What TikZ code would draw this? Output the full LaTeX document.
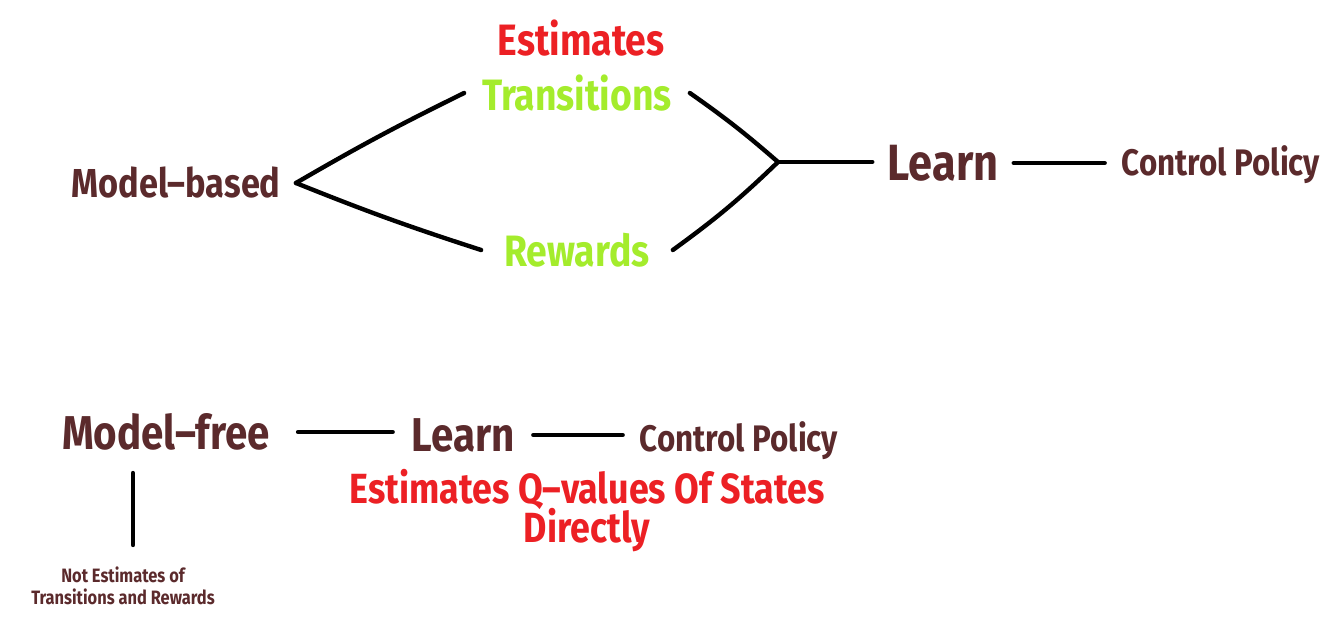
\documentclass[tikz,border=0pt]{standalone}
\usepackage{fontspec}
\usepackage{tikz}
\usetikzlibrary{arrows.meta, positioning, calc}
\newfontfamily\handfont[FakeStretch=0.85, Ligatures=TeX]{Fira Sans}
\definecolor{maroon}{HTML}{5B2A2C}
\definecolor{hotred}{HTML}{EC2024}
\definecolor{lime}{HTML}{A4EC2C}

\begin{document}
\begin{tikzpicture}[
    txt/.style={inner xsep=0.3cm, inner ysep=0pt, font=\handfont\bfseries},
    stroke/.style={line width=2.5pt, black, line cap=round}
]
    % Frame
    \useasboundingbox (0, 0) rectangle (26.7, -12.82);

    % Model-based branch
    \node[txt, text=hotred, font=\handfont\bfseries\fontsize{25}{28}\selectfont] (est) at (11.62, -0.76) {Estimates};
    \node[txt, text=lime, minimum width=4.5cm, font=\handfont\bfseries\fontsize{25}{28}\selectfont] (trans) at (11.54, -1.86) {Transitions};
    \node[txt, text=lime, minimum width=3.82cm, font=\handfont\bfseries\fontsize{25}{28}\selectfont] (rew) at (11.54, -5.0) {Rewards};
    \node[txt, text=maroon, minimum width=4.74cm, font=\handfont\bfseries\fontsize{23}{26}\selectfont] (mbased) at (3.52, -3.66) {Model–based};
    \coordinate (fork) at (15.56, -3.24);
    \node[txt, text=maroon, minimum width=2.8cm, font=\handfont\bfseries\fontsize{29}{32}\selectfont] (learnA) at (18.86, -3.26) {Learn};
    \node[txt, text=maroon, minimum width=4.64cm, font=\handfont\bfseries\fontsize{21}{24}\selectfont] (policyA) at (24.42, -3.30) {Control Policy};

    \draw[stroke] (mbased.east) to[bend left=2] (trans.west);
    \draw[stroke] (mbased.east) to[bend right=2] (rew.west);
    \draw[stroke] (trans.east) to[bend left=3] (fork);
    \draw[stroke] (rew.east) to[bend right=4] (fork);
    \draw[stroke] (fork) -- (fork -| learnA.west);
    \draw[stroke] (learnA.east) -- (learnA.east -| policyA.west);

    % Model-free branch
    \node[txt, text=maroon, minimum width=4.7cm, font=\handfont\bfseries\fontsize{27}{30}\selectfont] (mfree) at (3.32, -8.64) {Model–free};
    \node[txt, text=maroon, minimum width=2.8cm, font=\handfont\bfseries\fontsize{27}{30}\selectfont] (learnB) at (9.26, -8.70) {Learn};
    \node[txt, text=maroon, minimum width=4.64cm, font=\handfont\bfseries\fontsize{21}{24}\selectfont] (policyB) at (14.78, -8.82) {Control Policy};
    \node[txt, text=hotred, font=\handfont\bfseries\fontsize{24}{27}\selectfont] (qval) at (11.74, -9.78) {Estimates Q–values Of States};
    \node[txt, text=hotred, font=\handfont\bfseries\fontsize{24}{27}\selectfont] (direct) at (11.74, -10.60) {Directly};
    \node[txt, text=maroon, align=center, font=\handfont\bfseries\fontsize{11}{12.5}\selectfont] (note) at (2.46, -11.72) {Not Estimates of\\Transitions and Rewards};
    \coordinate (stemtop) at (2.66, -9.46);
    \coordinate (stembot) at (2.66, -10.9);

    \draw[stroke, shorten <=0.26cm] (mfree.east) -- (mfree.east -| learnB.west);
    \draw[stroke] (learnB.east) -- (learnB.east -| policyB.west);
    \draw[stroke] (stemtop) -- (stembot);
\end{tikzpicture}
\end{document}
